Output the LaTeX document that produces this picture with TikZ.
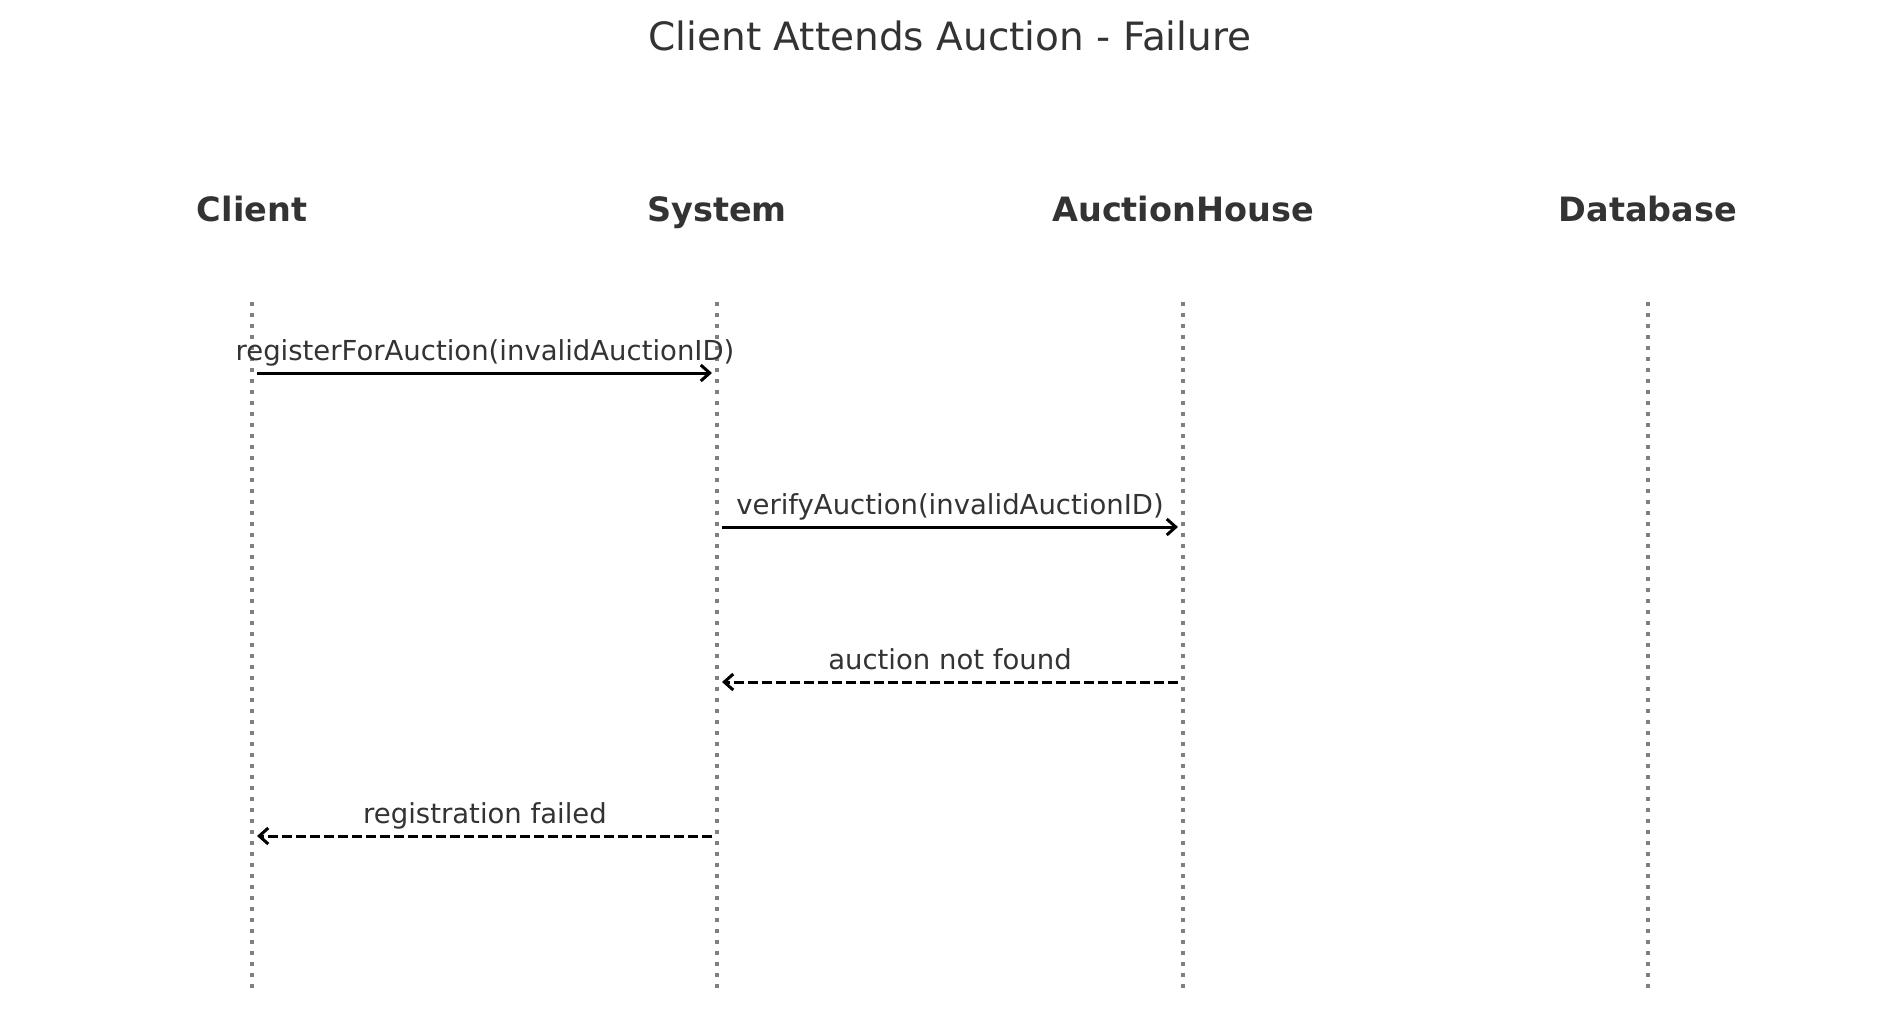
\documentclass[tikz,border=0pt]{standalone}
\usepackage{fontspec}
\setmainfont{DejaVu Sans}
\usetikzlibrary{arrows.meta}
\definecolor{txt}{HTML}{333333}
\definecolor{life}{HTML}{808080}
\tikzset{
  titletext/.style={text=txt,font=\fontsize{39}{46}\selectfont,inner sep=0pt,anchor=base},
  headtext/.style={text=txt,font=\bfseries\fontsize{33.5}{40}\selectfont,inner sep=0pt,anchor=base},
  msgtext/.style={text=txt,font=\fontsize{27.5}{33}\selectfont,inner sep=0pt,anchor=base},
  lifeline/.style={draw=life,line width=4pt,dash pattern=on 4pt off 7pt},
  callmsg/.style={draw=black,line width=3pt,-{Straight Barb[length=9pt,width=16pt,line width=3pt]}},
  retmsg/.style={draw=black,line width=3pt,dash pattern=on 10pt off 4pt,-{Straight Barb[length=9pt,width=16pt,line width=3pt]}},
}
\begin{document}
\begin{tikzpicture}[x=1pt,y=-1pt]
\useasboundingbox (0,0) rectangle (1900,1010);
\node[titletext] (title) at (950,50) {Client Attends Auction - Failure};
\foreach \n/\x/\t in {cl/252/Client,sy/717/System,ah/1183/AuctionHouse,db/1648/Database}{
  \node[headtext] (h\n) at (\x,221) {\t};
  \coordinate (t\n) at (\x,302);
  \coordinate (b\n) at (\x,992);
  \draw[lifeline] (t\n) -- (b\n);
}
% message endpoints
\coordinate (m1s) at (257,373); \coordinate (m1e) at (712,373);
\coordinate (m2s) at (722,527); \coordinate (m2e) at (1178,527);
\coordinate (m3s) at (1178,682); \coordinate (m3e) at (722,682);
\coordinate (m4s) at (712,836); \coordinate (m4e) at (257,836);
\draw[callmsg] (m1s) -- (m1e);
\draw[callmsg] (m2s) -- (m2e);
\draw[retmsg] (m3s) -- (m3e);
\draw[retmsg] (m4s) -- (m4e);
\node[msgtext] (l1) at (485,360) {registerForAuction(invalidAuctionID)};
\node[msgtext] (l2) at (950,514) {verifyAuction(invalidAuctionID)};
\node[msgtext] (l3) at (950,669) {auction not found};
\node[msgtext] (l4) at (485,823) {registration failed};
\end{tikzpicture}
\end{document}
